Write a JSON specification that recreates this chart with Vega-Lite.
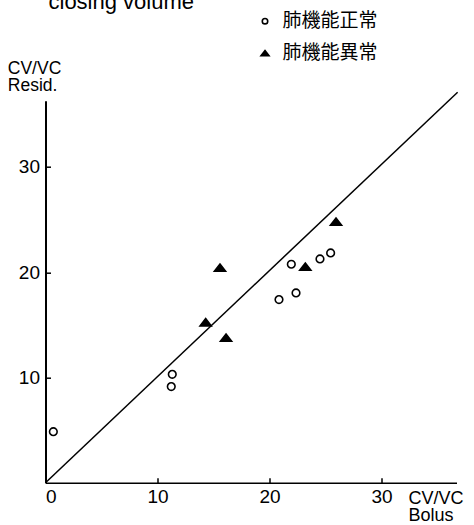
{
  "$schema": "https://vega.github.io/schema/vega-lite/v6.json",
  "autosize": "none",
  "width": 411,
  "height": 382,
  "padding": {"left": 45.5, "top": 100.7, "right": 17.5, "bottom": 42.3},
  "background": "white",
  "title": {
    "text": "closing volume",
    "anchor": "start",
    "frame": "group",
    "font": "Liberation Sans",
    "fontSize": 22,
    "fontWeight": "normal",
    "color": "black",
    "baseline": "alphabetic",
    "dx": 3,
    "dy": 19,
    "offset": 0
  },
  "datasets": {
    "pts": [
      {"x": 0.7, "y": 4.85, "group": "肺機能正常"},
      {"x": 11.32, "y": 10.3, "group": "肺機能正常"},
      {"x": 11.23, "y": 9.13, "group": "肺機能正常"},
      {"x": 20.85, "y": 17.4, "group": "肺機能正常"},
      {"x": 22.37, "y": 18.03, "group": "肺機能正常"},
      {"x": 21.95, "y": 20.76, "group": "肺機能正常"},
      {"x": 24.51, "y": 21.26, "group": "肺機能正常"},
      {"x": 25.46, "y": 21.83, "group": "肺機能正常"},
      {"x": 14.3, "y": 15.25, "group": "肺機能異常"},
      {"x": 16.12, "y": 13.78, "group": "肺機能異常"},
      {"x": 15.58, "y": 20.44, "group": "肺機能異常"},
      {"x": 23.2, "y": 20.53, "group": "肺機能異常"},
      {"x": 25.94, "y": 24.81, "group": "肺機能異常"}
    ],
    "ref": [
      {"x": 0, "y": 0},
      {"x": 36.8, "y": 37.1}
    ]
  },
  "encoding": {
    "x": {
      "field": "x",
      "type": "quantitative",
      "scale": {"domain": [0, 36.7], "nice": false, "zero": false},
      "axis": {
        "values": [0, 10, 20, 30],
        "title": ["CV/VC", "Bolus"],
        "titleX": 362.5,
        "titleY": 20.5,
        "titleAlign": "left",
        "titleBaseline": "alphabetic",
        "titleLineHeight": 17.5,
        "titleFontSize": 18,
        "domainWidth": 1.6,
        "labelPadding": 10
      }
    },
    "y": {
      "field": "y",
      "type": "quantitative",
      "scale": {"domain": [0, 36.3], "nice": false, "zero": false},
      "axis": {
        "values": [10, 20, 30],
        "title": ["CV/VC", "Resid."],
        "titleX": -38.2,
        "titleY": -27.2,
        "titleAngle": 0,
        "titleAlign": "left",
        "titleBaseline": "alphabetic",
        "titleLineHeight": 17,
        "titleFontSize": 17.5,
        "domainWidth": 2,
        "labelPadding": 11
      }
    }
  },
  "layer": [
    {
      "data": {"name": "ref"},
      "mark": {"type": "line", "color": "black", "strokeWidth": 1.5},
      "encoding": {}
    },
    {
      "data": {"name": "pts"},
      "mark": {"type": "point", "filled": true, "size": 125, "opacity": 1, "strokeWidth": 1.6},
      "encoding": {
        "stroke": {
          "field": "group",
          "type": "nominal",
          "scale": {"domain": ["肺機能正常", "肺機能異常"], "range": ["black", "black"]},
          "legend": {"title": null}
        },
        "shape": {
          "field": "group",
          "type": "nominal",
          "scale": {
            "domain": ["肺機能正常", "肺機能異常"],
            "range": ["M-0.68,0C-0.68,-0.375 -0.375,-0.68 0,-0.68C0.375,-0.68 0.68,-0.375 0.68,0C0.68,0.375 0.375,0.68 0,0.68C-0.375,0.68 -0.68,0.375 -0.68,0Z", "M0,-0.65L1,0.65L-1,0.65Z"]
          },
          "legend": {"title": null}
        },
        "fill": {
          "field": "group",
          "type": "nominal",
          "scale": {"domain": ["肺機能正常", "肺機能異常"], "range": ["white", "black"]},
          "legend": {"title": null}
        }
      }
    }
  ],
  "config": {
    "view": {"stroke": null},
    "axis": {
      "grid": false,
      "domainColor": "black",
      "tickColor": "black",
      "tickSize": -5,
      "tickWidth": 1.5,
      "labelFont": "Liberation Sans",
      "labelFontSize": 19,
      "labelColor": "black",
      "titleFont": "Liberation Sans",
      "titleFontSize": 19,
      "titleFontWeight": "normal",
      "titleColor": "black"
    },
    "legend": {
      "orient": "none",
      "legendX": 210,
      "legendY": -89,
      "padding": 0,
      "symbolSize": 64,
      "symbolStrokeWidth": 1.6,
      "labelFont": "Noto Sans CJK JP",
      "labelFontSize": 19,
      "labelColor": "black",
      "labelOffset": 8,
      "rowPadding": 12
    }
  }
}
